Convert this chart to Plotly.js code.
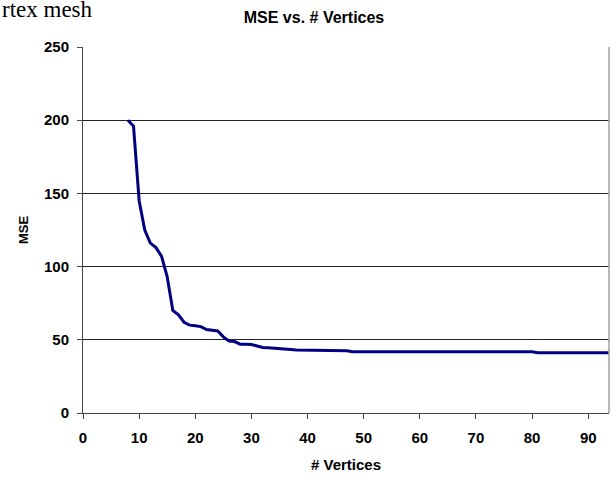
<!DOCTYPE html>
<html>
<head>
<meta charset="utf-8">
<script src="https://cdn.plot.ly/plotly-3.0.1.min.js"></script>
<style>
  html, body { margin: 0; padding: 0; background: #fff; }
  #chart { width: 611px; height: 479px; }
</style>
</head>
<body>
<div id="chart"></div>
<script>
// Data
const vertices = [8, 9, 10, 11, 12, 13, 14, 15, 16, 17, 18, 19, 20, 21, 22, 23, 24, 25, 26, 27, 28, 29, 30,
  31, 32, 33, 34, 35, 36, 37, 38, 39, 40, 41, 42, 43, 44, 45, 46, 47, 48, 49, 50,
  51, 52, 53, 54, 55, 56, 57, 58, 59, 60, 61, 62, 63, 64, 65, 66, 67, 68, 69, 70,
  71, 72, 73, 74, 75, 76, 77, 78, 79, 80, 81, 82, 83, 84, 85, 86, 87, 88, 89, 90,
  91, 92, 93, 94];
const mse = [200, 196, 145, 125, 116, 113, 107, 93, 70, 67, 62, 60, 59.6, 59, 57, 56.5, 56, 52, 49.2, 48.8, 47, 47, 46.8,
  45.8, 44.8, 44.6, 44.4, 44.2, 43.8, 43.4, 43, 43, 43, 43, 43, 42.6, 42.6, 42.6, 42.6, 42.5, 41.8, 41.8, 41.8,
  41.8, 41.8, 41.8, 41.8, 41.8, 41.8, 41.8, 41.8, 41.8, 41.8, 41.8, 41.8, 41.8, 41.8, 41.8, 41.8, 41.8, 41.8, 41.8, 41.8,
  41.8, 41.8, 41.8, 41.8, 41.8, 41.8, 41.8, 41.8, 41.8, 41.8, 41.2, 41.2, 41.2, 41.2, 41.2, 41.2, 41.2, 41.2, 41.2, 41.2,
  41.2, 41.2, 41.2, 41.2];
const xTicks = [0, 10, 20, 30, 40, 50, 60, 70, 80, 90];
const yTicks = [0, 50, 100, 150, 200, 250];
const chartTitle = 'MSE vs. # Vertices';
const xTitle = '# Vertices';
const yTitle = 'MSE';
const pageText = 'rtex mesh';

const fontBold = 'Liberation Sans, Arial, sans-serif';

const trace = {
  x: vertices,
  y: mse,
  type: 'scatter',
  mode: 'lines',
  line: { color: '#000080', width: 3 },
  hoverinfo: 'skip'
};

const layout = {
  width: 611,
  height: 479,
  margin: { l: 83, r: 2, t: 47, b: 66 },
  paper_bgcolor: '#fff',
  plot_bgcolor: '#fff',
  showlegend: false,
  title: {
    text: '<b>' + chartTitle + '</b>',
    font: { family: fontBold, size: 16, color: '#000' },
    xref: 'container', yref: 'container',
    x: 314 / 611, xanchor: 'center',
    y: 1 - 17 / 479, yanchor: 'middle'
  },
  xaxis: {
    range: [0, 93.7],
    tickvals: xTicks,
    ticktext: xTicks.map(v => '<b>' + v + '</b>'),
    ticks: 'outside', ticklen: 5, tickcolor: '#444', tickwidth: 1,
    ticklabelstandoff: 6,
    showgrid: false, zeroline: false,
    showline: true, linecolor: '#444', linewidth: 1,
    tickfont: { family: fontBold, size: 15, color: '#000' },
    title: { text: '<b>' + xTitle + '</b>', font: { family: fontBold, size: 15, color: '#000' }, standoff: 14 },
    fixedrange: true
  },
  yaxis: {
    range: [0, 250],
    tickvals: yTicks,
    ticktext: yTicks.map(v => '<b>' + v + '</b>'),
    ticks: 'outside', ticklen: 5, tickcolor: '#444', tickwidth: 1,
    ticklabelstandoff: 5,
    showgrid: true, gridcolor: '#222', gridwidth: 1,
    zeroline: false,
    showline: true, linecolor: '#444', linewidth: 1,
    tickfont: { family: fontBold, size: 15, color: '#000' },
    title: { text: '<b>' + yTitle + '</b>', font: { family: fontBold, size: 13, color: '#000' }, standoff: 12 },
    fixedrange: true
  },
  shapes: [
    { type: 'line', xref: 'paper', yref: 'paper', x0: 1, x1: 1, y0: 0, y1: 1,
      line: { color: '#a0a0a0', width: 1.5 } }
  ],
  annotations: [
    { text: pageText, xref: 'paper', yref: 'paper', x: -83 / 526, xanchor: 'left', xshift: 0,
      y: 1 + (47 - 24) / 366, yanchor: 'bottom', showarrow: false,
      font: { family: 'Liberation Serif, Times New Roman, serif', size: 23, color: '#000' } }
  ]
};

Plotly.newPlot('chart', [trace], layout, { displayModeBar: false, staticPlot: true });
</script>
</body>
</html>
